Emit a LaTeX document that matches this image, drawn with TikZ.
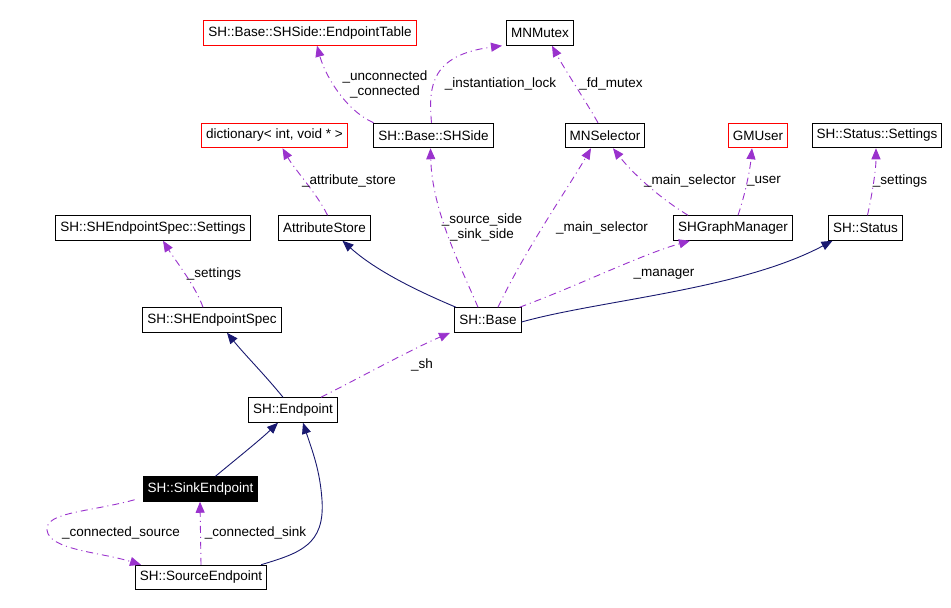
\documentclass[tikz,border=0pt]{standalone}
\usepackage{fontspec}
\setmainfont{Liberation Sans}
\usetikzlibrary{arrows.meta,calc}
\definecolor{deppurple}{HTML}{9A32CD}
\definecolor{inhnavy}{HTML}{191970}
\tikzset{
  cls/.style={draw=black, line width=1pt, fill=white, inner xsep=4.5pt, inner ysep=0pt, minimum height=24.5pt, font=\fontsize{13.5}{16}\selectfont},
  ext/.style={cls, draw=red},
  cur/.style={cls, fill=black, text=white},
  dep/.style={draw=deppurple, line width=0.9pt, dash pattern=on 7pt off 4pt on 1pt off 4pt, -{Triangle[length=11pt,width=9pt,fill=deppurple]}},
  inh/.style={draw=inhnavy, line width=0.9pt, -{Triangle[length=11pt,width=9pt,fill=inhnavy]}},
  lbl/.style={font=\fontsize{13.5}{15}\selectfont, inner sep=0pt, align=center}
}
\begin{document}
\begin{tikzpicture}[x=1pt,y=-1pt]
\useasboundingbox[fill=white] (0,0) rectangle (951,608);
% nodes
\node[ext] (ept) at (310,33) {SH::Base::SHSide::EndpointTable};
\node[cls] (mutex) at (540,33) {MNMutex};
\node[ext] (dict) at (274.5,135.5) {dictionary< int, void * >};
\node[cls] (shside) at (433.5,135.5) {SH::Base::SHSide};
\node[cls] (mnsel) at (605,135.5) {MNSelector};
\node[ext] (gmuser) at (758,135.5) {GMUser};
\node[cls] (sset) at (877,135.5) {SH::Status::Settings};
\node[cls] (esset) at (153,228) {SH::SHEndpointSpec::Settings};
\node[cls] (attr) at (324.5,228) {AttributeStore};
\node[cls] (gm) at (733,228) {SHGraphManager};
\node[cls] (status) at (865.5,228) {SH::Status};
\node[cls] (spec) at (212,320) {SH::SHEndpointSpec};
\node[cls] (base) at (488,320) {SH::Base};
\node[cls] (ep) at (293,410) {SH::Endpoint};
\node[cur] (sink) at (200.5,489) {SH::SinkEndpoint};
\node[cls] (src) at (201,577.5) {SH::SourceEndpoint};
% edges
\draw[dep] ([xshift=-60]shside.north) .. controls (345,110) and (325,75) .. ([xshift=7]ept.south);
\node[lbl] at (385,84) {\_unconnected\\\_connected};
\draw[dep] ([xshift=-2]shside.north) .. controls (428,85) and (432,55) .. ([xshift=-38]mutex.south);
\node[lbl] at (500.5,84) {\_instantiation\_lock};
\draw[dep] ([xshift=-7]mnsel.north) .. controls (585,100) and (565,70) .. ([xshift=12]mutex.south);
\node[lbl] at (611,84) {\_fd\_mutex};
\draw[dep] ([xshift=3]attr.north) .. controls (318,195) and (295,170) .. ([xshift=8]dict.south);
\node[lbl] at (349,181) {\_attribute\_store};
\draw[dep] ([xshift=-10]base.north) .. controls (460,265) and (432,210) .. ([xshift=-3]shside.south);
\node[lbl] at (482,227.5) {\_source\_side\\\_sink\_side};
\draw[dep] ([xshift=10]base.north) .. controls (525,250) and (570,185) .. ([xshift=-14]mnsel.south);
\node[lbl] at (602,228) {\_main\_selector};
\draw[dep] ([xshift=-45]gm.north) .. controls (655,195) and (630,170) .. ([xshift=8]mnsel.south);
\node[lbl] at (690,181) {\_main\_selector};
\draw[dep] ([xshift=5]gm.north) .. controls (745,195) and (750,170) .. ([xshift=-6]gmuser.south);
\node[lbl] at (764,181) {\_user};
\draw[dep] ([xshift=2]status.north) .. controls (872,195) and (876,170) .. ([xshift=-1]sset.south);
\node[lbl] at (900,181) {\_settings};
\draw[dep] ([xshift=-2]base.north east) .. controls (580,285) and (640,255) .. ([xshift=-43]gm.south);
\node[lbl] at (664,274) {\_manager};
\draw[inh] ([yshift=-2]base.east) .. controls (600,300) and (740,290) .. ([xshift=-33]status.south);
\draw[inh] ([xshift=-32]base.north) .. controls (415,290) and (375,270) .. ([xshift=18]attr.south);
\draw[dep] ([xshift=-9]spec.north) .. controls (195,285) and (175,260) .. ([xshift=10]esset.south);
\node[lbl] at (214,274) {\_settings};
\draw[inh] ([xshift=-10]ep.north) .. controls (265,375) and (245,355) .. ([xshift=15]spec.south);
\draw[dep] ([xshift=28]ep.north) .. controls (365,375) and (410,350) .. ([xshift=-38]base.south);
\node[lbl] at (422,365) {\_sh};
\draw[inh] ([xshift=15]sink.north) .. controls (235,460) and (260,440) .. ([xshift=-15]ep.south);
\draw[inh] ([xshift=60]src.north) .. controls (300,553) and (325,545) .. (322,500) .. controls (320,470) and (312,450) .. ([xshift=10]ep.south);
\draw[dep] (src.north) -- ([xshift=-0.5]sink.south);
\node[lbl] at (255.5,533) {\_connected\_sink};
\draw[dep] ([xshift=-8,yshift=2]sink.south west) .. controls (90,512) and (45,512) .. (47,530) .. controls (49,550) and (100,552) .. ([xshift=-60]src.north);
\node[lbl] at (121,533) {\_connected\_source};
\end{tikzpicture}
\end{document}
